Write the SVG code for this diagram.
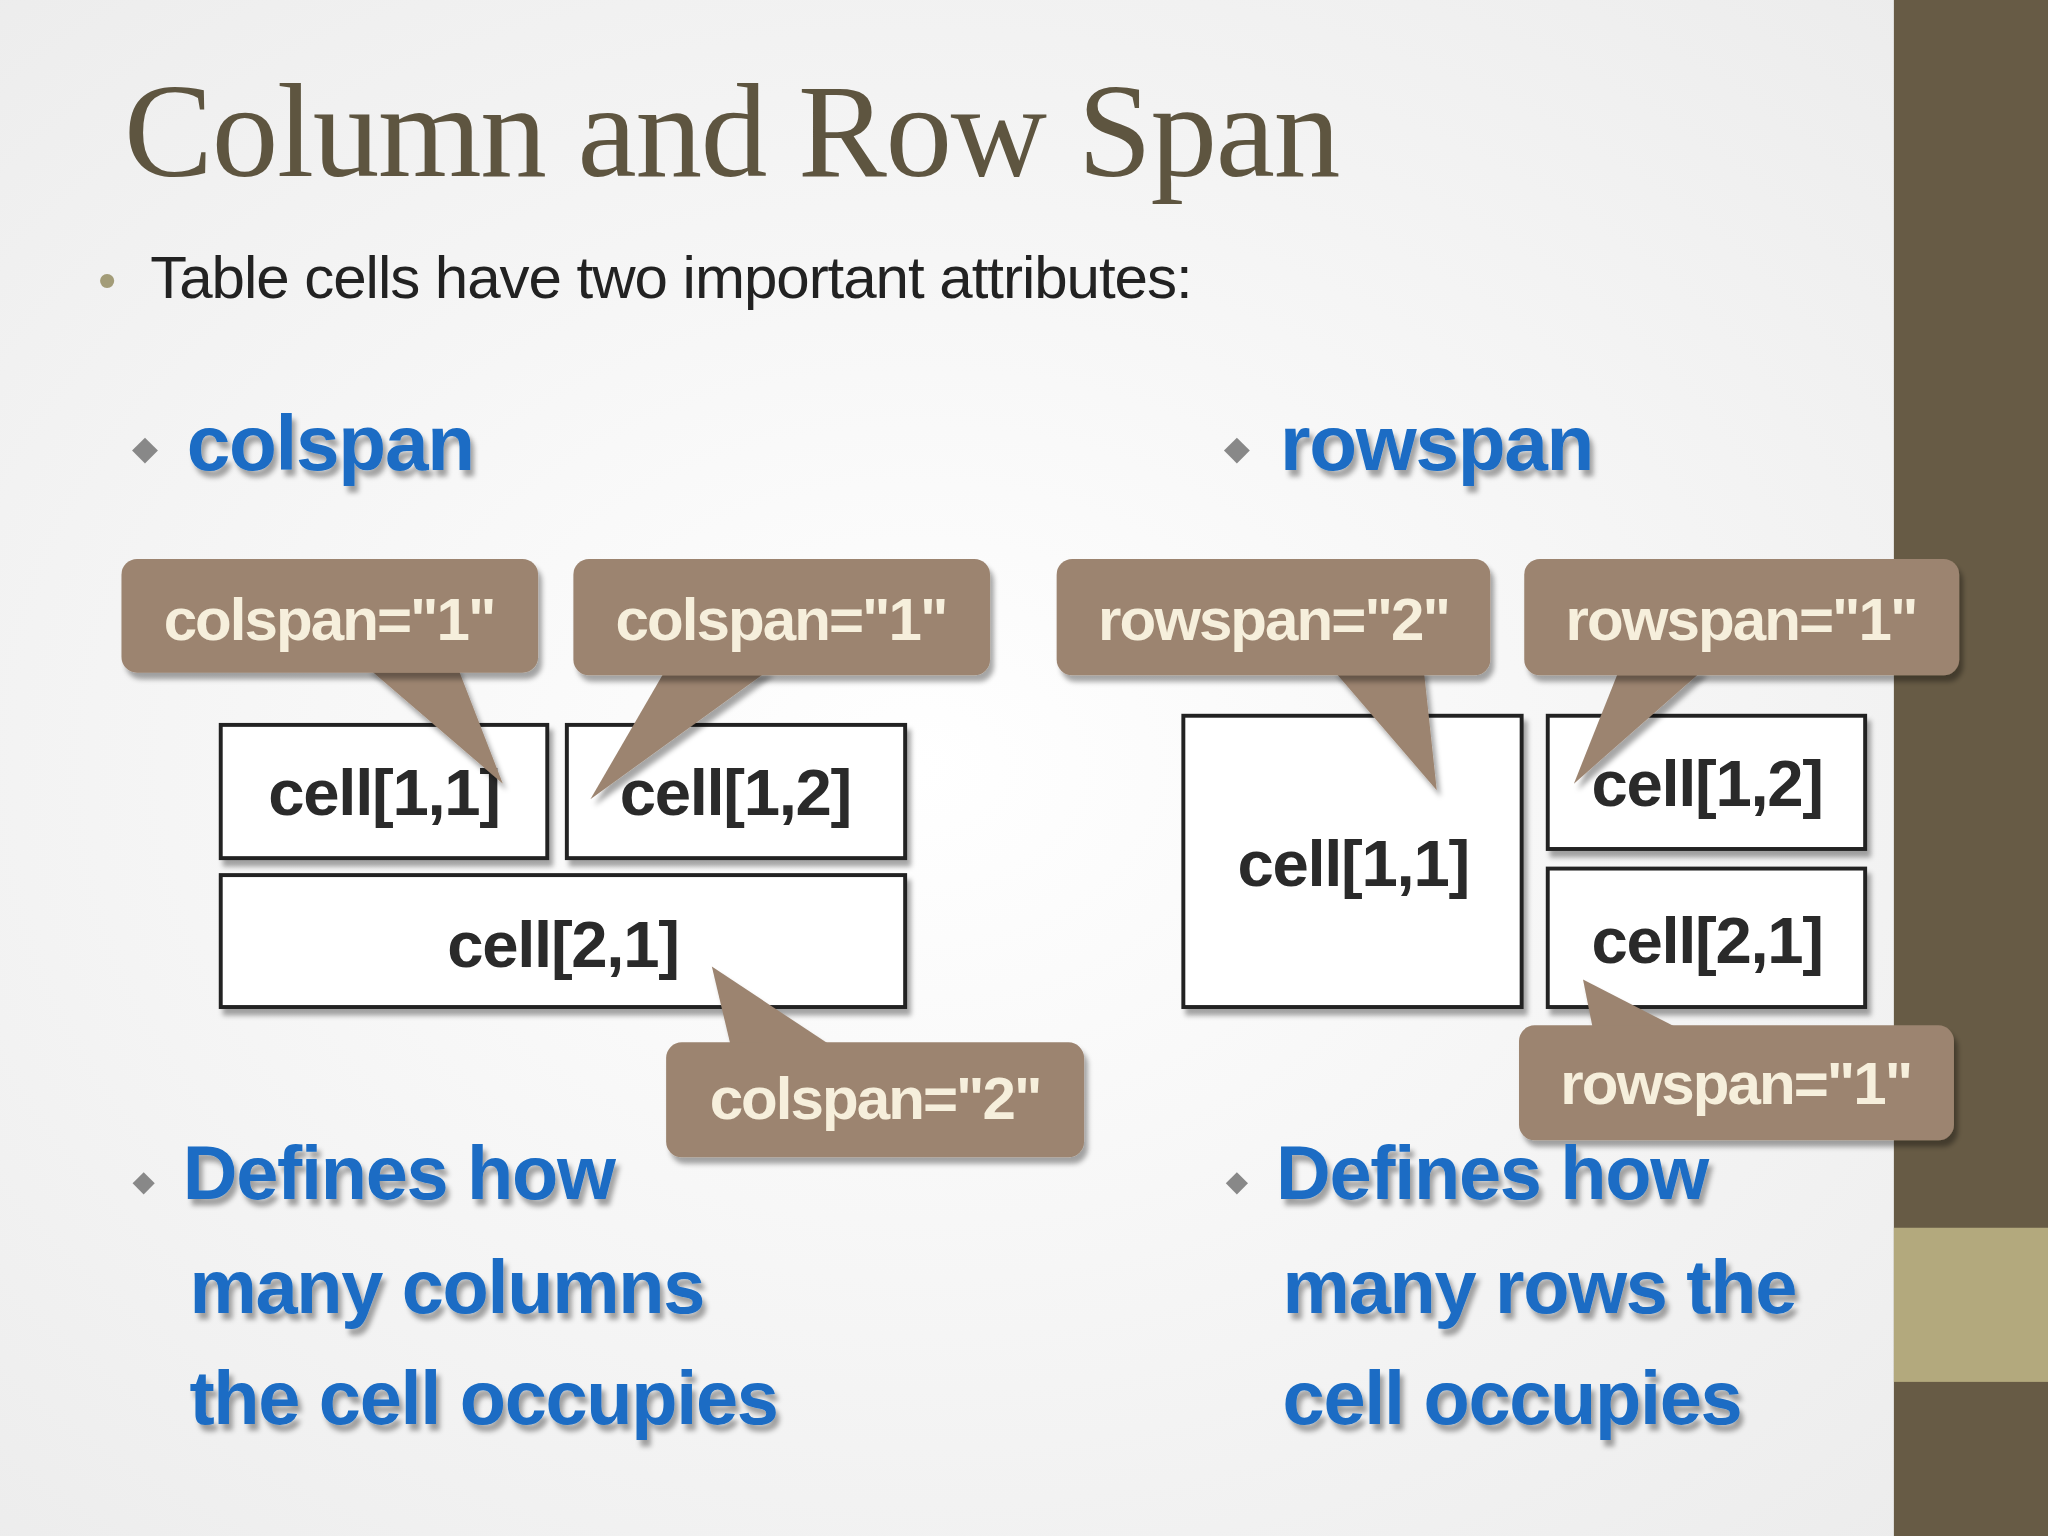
<svg xmlns="http://www.w3.org/2000/svg" width="2048" height="1536" viewBox="0 0 2048 1536">
<defs>
<radialGradient id="bg" cx="0.45" cy="0.5" r="0.7"><stop offset="0" stop-color="#ffffff"/><stop offset="1" stop-color="#ececec"/></radialGradient>
<filter id="sh" x="-10%" y="-10%" width="130%" height="140%"><feDropShadow dx="3" dy="5" stdDeviation="2" flood-color="#000" flood-opacity="0.35"/></filter>
<style>
.co{fill:#9c8470}
.ct{font-family:"Liberation Sans",Arial,sans-serif;font-weight:bold;font-size:46px;fill:#f6efdc;text-anchor:middle;letter-spacing:-1.5px}
.cell{fill:#fff;stroke:#222;stroke-width:3}
.cl{font-family:"Liberation Sans",Arial,sans-serif;font-weight:bold;font-size:50px;fill:#2a2a2a;text-anchor:middle;letter-spacing:-1px}
.bl{font-family:"Liberation Sans",Arial,sans-serif;font-weight:bold;fill:#1a6cc4;letter-spacing:-1px}
.dm{fill:#888}
</style>
</defs>
<g transform="scale(1.306122)">
<rect width="1568" height="1176" fill="url(#bg)"/>
<rect x="1450" y="0" width="118" height="1176" fill="#675b45"/>
<rect x="1450" y="940" width="118" height="118" fill="#b3a97d"/>
<text x="95" y="135" font-family="Liberation Serif,serif" font-size="102" fill="#5e5540" letter-spacing="-1">Column and Row Span</text>
<text x="75" y="228" font-family="Liberation Sans,sans-serif" font-size="40" fill="#a39c78">•</text>
<text x="115" y="228" font-family="Liberation Sans,sans-serif" font-size="46" fill="#222" letter-spacing="-0.8">Table cells have two important attributes:</text>
<g id="colspan-head"><rect x="104" y="338" width="14" height="14" class="dm" transform="rotate(45 111 345)"/><text x="143" y="360" class="bl" font-size="60" letter-spacing="1.5" filter="url(#sh)">colspan</text></g>
<g id="rowspan-head"><rect x="940" y="338" width="14" height="14" class="dm" transform="rotate(45 947 345)"/><text x="980" y="360" class="bl" font-size="60" letter-spacing="0.5" filter="url(#sh)">rowspan</text></g>
<g id="cells-left" filter="url(#sh)">
<rect class="cell" x="169" y="555" width="250" height="102"/><text class="cl" x="294" y="624">cell[1,1]</text>
<rect class="cell" x="434" y="555" width="259" height="102"/><text class="cl" x="563" y="624">cell[1,2]</text>
<rect class="cell" x="169" y="670" width="524" height="101"/><text class="cl" x="431" y="740">cell[2,1]</text>
</g>
<g id="cells-right" filter="url(#sh)">
<rect class="cell" x="906" y="548" width="259" height="223"/><text class="cl" x="1036" y="678">cell[1,1]</text>
<rect class="cell" x="1185" y="548" width="243" height="102"/><text class="cl" x="1307" y="617">cell[1,2]</text>
<rect class="cell" x="1185" y="665" width="243" height="106"/><text class="cl" x="1307" y="737">cell[2,1]</text>
</g>
<g id="connectors" class="co" filter="url(#sh)">
<polygon points="280,510 350,510 385,600"/>
<polygon points="510,512 590,512 452,612"/>
<polygon points="1020,512 1090,512 1100,605"/>
<polygon points="1240,512 1305,512 1205,600"/>
<polygon points="560,803 640,803 545,740"/>
<polygon points="1220,790 1290,790 1212,750"/>
</g>
<g id="c1" filter="url(#sh)"><rect class="co" x="93" y="428" width="319" height="87" rx="12"/><text class="ct" x="252" y="490">colspan="1"</text></g>
<g id="c2" filter="url(#sh)"><rect class="co" x="439" y="428" width="319" height="89" rx="12"/><text class="ct" x="598" y="490">colspan="1"</text></g>
<g id="r2" filter="url(#sh)"><rect class="co" x="809" y="428" width="332" height="89" rx="12"/><text class="ct" x="975" y="490">rowspan="2"</text></g>
<g id="r1" filter="url(#sh)"><rect class="co" x="1167" y="428" width="333" height="89" rx="12"/><text class="ct" x="1333" y="490">rowspan="1"</text></g>
<g id="c3" filter="url(#sh)"><rect class="co" x="510" y="798" width="320" height="88" rx="12"/><text class="ct" x="670" y="857">colspan="2"</text></g>
<g id="r3" filter="url(#sh)"><rect class="co" x="1163" y="785" width="333" height="88" rx="12"/><text class="ct" x="1329" y="845">rowspan="1"</text></g>
<g id="desc-left">
<rect x="104" y="900" width="12" height="12" class="dm" transform="rotate(45 110 906)"/>
<text class="bl" font-size="58" filter="url(#sh)"><tspan x="140" y="918">Defines how</tspan><tspan x="145" y="1005">many columns</tspan><tspan x="145" y="1090">the cell occupies</tspan></text>
</g>
<g id="desc-right">
<rect x="941" y="900" width="12" height="12" class="dm" transform="rotate(45 947 906)"/>
<text class="bl" font-size="58" filter="url(#sh)"><tspan x="977" y="918">Defines how</tspan><tspan x="982" y="1005">many rows the</tspan><tspan x="982" y="1090">cell occupies</tspan></text>
</g>
</g>
</svg>
